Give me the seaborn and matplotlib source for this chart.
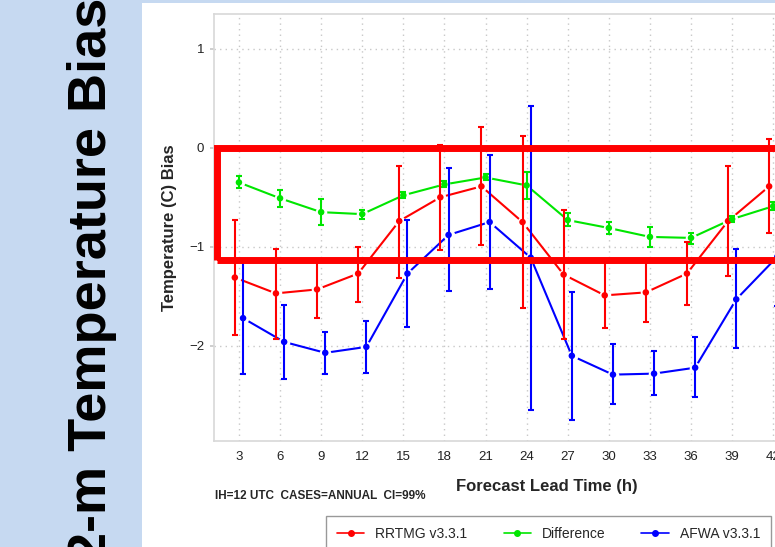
import numpy as np
import pandas as pd
import seaborn as sns
import matplotlib.pyplot as plt
from matplotlib.patches import Rectangle
from matplotlib.lines import Line2D

# forecast lead times (h)
lead = [3, 6, 9, 12, 15, 18, 21, 24, 27, 30, 33, 36, 39, 42]

# RRTMG v3.3.1 bias and 99% CI
rrtmg = [-1.31, -1.47, -1.43, -1.27, -0.74, -0.50, -0.39, -0.75, -1.28, -1.49, -1.46, -1.27, -0.74, -0.39]
rrtmg_lo = [-1.89, -1.93, -1.72, -1.56, -1.31, -1.03, -0.98, -1.62, -1.93, -1.82, -1.76, -1.59, -1.29, -0.86]
rrtmg_hi = [-0.73, -1.02, -1.15, -1.00, -0.18, 0.03, 0.21, 0.12, -0.63, -1.15, -1.15, -0.95, -0.18, 0.09]

# Difference
diff = [-0.35, -0.51, -0.65, -0.67, -0.48, -0.37, -0.30, -0.38, -0.73, -0.81, -0.90, -0.91, -0.72, -0.59]
diff_lo = [-0.41, -0.60, -0.78, -0.72, -0.51, -0.40, -0.33, -0.52, -0.79, -0.87, -1.00, -0.97, -0.75, -0.63]
diff_hi = [-0.29, -0.43, -0.52, -0.63, -0.45, -0.34, -0.27, -0.24, -0.66, -0.75, -0.80, -0.86, -0.69, -0.55]

# AFWA v3.3.1
afwa = [-1.72, -1.96, -2.07, -2.01, -1.27, -0.88, -0.75, -1.11, -2.10, -2.29, -2.28, -2.22, -1.53, -1.10]
afwa_lo = [-2.28, -2.33, -2.28, -2.27, -1.81, -1.45, -1.43, -2.65, -2.75, -2.59, -2.50, -2.52, -2.02, -1.60]
afwa_hi = [-1.15, -1.59, -1.86, -1.75, -0.73, -0.20, -0.07, 0.42, -1.46, -1.98, -2.05, -1.91, -1.02, -0.60]

names = ["RRTMG v3.3.1", "Difference", "AFWA v3.3.1"]
colors = {"RRTMG v3.3.1": "#ff0000", "Difference": "#00e600", "AFWA v3.3.1": "#0000ff"}
offsets = {"RRTMG v3.3.1": -0.3, "Difference": 0.0, "AFWA v3.3.1": 0.3}

series = {
    "RRTMG v3.3.1": (rrtmg, rrtmg_lo, rrtmg_hi),
    "Difference": (diff, diff_lo, diff_hi),
    "AFWA v3.3.1": (afwa, afwa_lo, afwa_hi),
}

rows = []
for name in names:
    val, lo, hi = series[name]
    for i in range(len(lead)):
        rows.append({"lead": lead[i] + offsets[name], "bias": val[i],
                     "lo": lo[i], "hi": hi[i], "model": name})
df = pd.DataFrame(rows)

sns.set_theme(style="white")
plt.rcParams["font.family"] = ["Liberation Sans", "DejaVu Sans"]

fig = plt.figure(figsize=(7.75, 5.47), dpi=100)
fig.patch.set_facecolor("white")
# slide background strips
fig.patches.append(Rectangle((0, 0), 142 / 775, 1, transform=fig.transFigure,
                             facecolor="#c6d9f1", edgecolor="none", zorder=0))
fig.patches.append(Rectangle((0, 1 - 3 / 547), 1, 3 / 547, transform=fig.transFigure,
                             facecolor="#c6d9f1", edgecolor="none", zorder=0))
fig.text(92 / 775, 1 - 280 / 547, "2-m Temperature Bias", rotation=90, ha="center", va="center",
         fontsize=39, fontweight="bold", color="black")

ax = fig.add_axes([214 / 775, 106 / 547, 598 / 775, 427 / 547])

# lines
sns.lineplot(data=df, x="lead", y="bias", hue="model", palette=colors, ax=ax,
             linewidth=1.5, legend=False, zorder=2, sort=False)
# white halo around points (R type="b" gaps)
ax.scatter(df["lead"], df["bias"], s=70, color="white", zorder=3, linewidths=0)
for name in names:
    d = df[df.model == name]
    ax.errorbar(d["lead"], d["bias"], yerr=[d["bias"] - d["lo"], d["hi"] - d["bias"]],
                fmt="none", ecolor=colors[name], elinewidth=1.5, capsize=2.2,
                capthick=1.5, zorder=4)
sns.scatterplot(data=df, x="lead", y="bias", hue="model", palette=colors, ax=ax,
                s=22, linewidth=0, legend=False, zorder=5)

ax.set_xlim(1.18, 44.83)
ax.set_ylim(-2.96, 1.35)
ax.set_xticks(lead)
ax.set_yticks([1, 0, -1, -2])
ax.grid(True, color="#c8c8c8", linestyle=(0, (1, 3)), linewidth=1)
for s in ax.spines.values():
    s.set_color("#d8d8d8")
    s.set_linewidth(1.2)
ax.tick_params(axis="x", length=0, pad=7, labelsize=9.5, labelcolor="#222222")
ax.tick_params(axis="y", length=3, color="#c8c8c8", left=True, pad=4,
               labelsize=9.5, labelcolor="#222222")
ax.set_xlabel("")
ax.set_ylabel("Temperature (C) Bias", fontsize=12, fontweight="bold", labelpad=9)

# highlight box
ax.add_patch(Rectangle((1.40, -1.13), 50, 1.13, fill=False, edgecolor="#ff0000",
                       linewidth=5, zorder=6, clip_on=False))

fig.text(547 / 775, 1 - 487 / 547, "Forecast Lead Time (h)", ha="center", va="center",
         fontsize=12, fontweight="bold")
fig.text(215 / 775, 1 - 496 / 547, "IH=12 UTC  CASES=ANNUAL  CI=99%", ha="left",
         va="center", fontsize=8.5, fontweight="bold")

handles = [Line2D([0], [0], color=colors[n], marker="o", markersize=4, linewidth=1.2)
           for n in names]
leg = fig.legend(handles, names, loc="upper left", bbox_to_anchor=(326 / 775, 1 - 516 / 547),
                 ncol=3, frameon=True, fancybox=False, fontsize=10, handlelength=1.95,
                 columnspacing=2.6, borderpad=0.8, handletextpad=0.8, borderaxespad=0)
leg.get_frame().set_edgecolor("#808080")
leg.get_frame().set_linewidth(1)

fig.savefig("out.png", dpi=100)
